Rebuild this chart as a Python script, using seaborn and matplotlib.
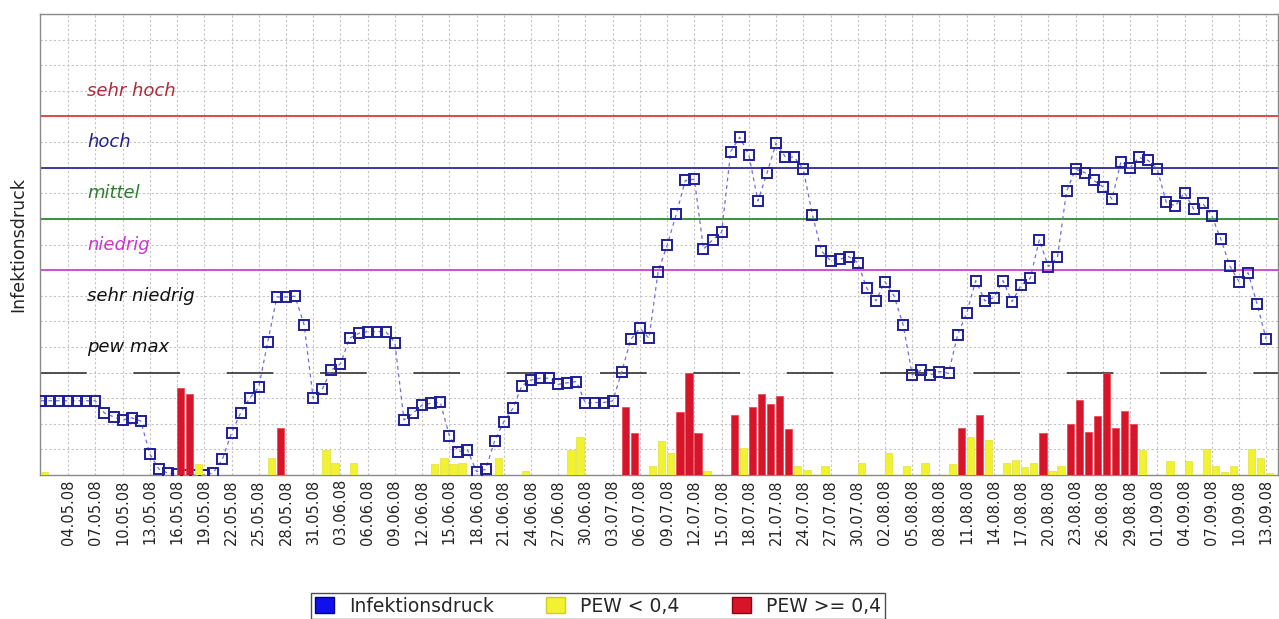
import numpy as np
import pandas as pd
import seaborn as sns
from matplotlib import pyplot as plt
from matplotlib.patches import Patch

# daily values from 01.05.2008 to 13.09.2008
start = "2008-05-01"
druck = [
    2.9, 2.9, 2.9, 2.9, 2.9, 2.9, 2.9, 2.42, 2.27, 2.15,
    2.23, 2.11, 0.82, 0.23, 0.07, 0.05, 0.0, 0.0, 0.0, 0.09,
    0.62, 1.64, 2.42, 3.0, 3.43, 5.21, 6.95, 6.95, 6.98, 5.86,
    3.0, 3.36, 4.1, 4.34, 5.34, 5.53, 5.6, 5.6, 5.6, 5.17,
    2.15, 2.41, 2.73, 2.8, 2.84, 1.54, 0.91, 0.98, 0.13, 0.22,
    1.34, 2.08, 2.6, 3.49, 3.71, 3.78, 3.78, 3.54, 3.6, 3.65,
    2.8, 2.83, 2.83, 2.89, 4.04, 5.3, 5.73, 5.34, 7.94, 8.98,
    10.18, 11.5, 11.55, 8.82, 9.18, 9.48, 12.63, 13.19, 12.5, 10.7,
    11.79, 12.96, 12.43, 12.41, 11.94, 10.16, 8.75, 8.37, 8.42, 8.53,
    8.29, 7.29, 6.8, 7.55, 6.99, 5.86, 3.91, 4.1, 3.91, 4.04,
    3.97, 5.47, 6.32, 7.59, 6.8, 6.93, 7.59, 6.77, 7.42, 7.68,
    9.18, 8.14, 8.5, 11.07, 11.94, 11.81, 11.5, 11.26, 10.77, 12.24,
    12.0, 12.4, 12.28, 11.94, 10.64, 10.51, 11.03, 10.38, 10.61, 10.12,
    9.21, 8.16, 7.55, 7.9, 6.67, 5.3,
]
# PEW < 0,4 (yellow): day index -> bar height
pew_low_days = [0, 17, 25, 31, 32, 34, 43, 44, 45, 46, 50, 53, 58, 59, 67, 68, 69, 73,
                77, 83, 84, 86, 90, 93, 95, 97, 100, 102, 104, 106, 107, 108, 109, 111,
                112, 121, 124, 126, 128, 129, 130, 131, 133, 134, 135]
pew_low_vals = [0.13, 0.42, 0.66, 0.98, 0.48, 0.48, 0.42, 0.66, 0.44, 0.45, 0.65, 0.17,
                0.99, 1.47, 0.35, 1.34, 0.86, 0.14, 1.04, 0.35, 0.18, 0.35, 0.48, 0.86,
                0.35, 0.48, 0.42, 1.47, 1.35, 0.48, 0.6, 0.3, 0.48, 0.17, 0.35, 0.98,
                0.56, 0.56, 1.0, 0.35, 0.13, 0.35, 1.0, 0.65, 0.09]
# PEW >= 0,4 (red)
pew_high_days = [15, 16, 26, 64, 65, 70, 71, 72, 76, 78, 79, 80, 81, 82, 101, 103, 110,
                 113, 114, 115, 116, 117, 118, 119, 120]
pew_high_vals = [3.39, 3.15, 1.83, 2.67, 1.65, 2.47, 4.0, 1.65, 2.33, 2.65, 3.15, 2.78,
                 3.09, 1.78, 1.82, 2.34, 1.65, 1.99, 2.93, 1.69, 2.3, 4.0, 1.82, 2.5, 1.98]

levels = [14, 12, 10, 8]
level_colors = ["#e03a3a", "#2b2b9c", "#2e8a2e", "#cc44cc"]
labels = ["sehr hoch", "hoch", "mittel", "niedrig", "sehr niedrig", "pew max"]
label_y = [15, 13, 11, 9, 7, 5]
label_colors = ["#b02a3a", "#22228a", "#2e7d2e", "#cc33cc", "#111111", "#111111"]
pew_max = 4

n = len(druck)
days = np.arange(n)
dates = pd.date_range(start, periods=n, freq="D")
low = np.zeros(n)
low[pew_low_days] = pew_low_vals
high = np.zeros(n)
high[pew_high_days] = pew_high_vals

sns.set_style("whitegrid")
fig = plt.figure(figsize=(12.79, 6.19), dpi=100)
ax = fig.add_axes([40 / 1279, 144 / 619, 1238 / 1279, 461 / 619])

sns.lineplot(x=days, y=druck, ax=ax, color="#6f6fd8", linestyle=(0, (3, 3)), linewidth=0.9,
             marker="s", markersize=7.5, markerfacecolor="none", markeredgecolor="#1f1f99",
             markeredgewidth=1.4, zorder=3)

ax.bar(days + 0.4, low, width=0.8, color="#f2f230", edgecolor="#e0e040", linewidth=0.5, zorder=4)
ax.bar(days + 0.4, high, width=0.8, color="#d6142a", edgecolor="#e84050", linewidth=0.5, zorder=4)

for lv, c in zip(levels, level_colors):
    ax.axhline(lv, color=c, linewidth=1.3, zorder=2)
ax.axhline(pew_max, color="#333333", linewidth=1.2, linestyle=(0, (28, 28)), zorder=2)

for t, yv, c in zip(labels, label_y, label_colors):
    ax.text(5.1, yv, t, color=c, style="italic", fontsize=13, va="center", zorder=5)

ax.set_xlim(-0.1, 136.3)
ax.set_ylim(0, 18)
ticks = np.arange(3, n, 3)
ax.set_xticks(ticks)
ax.set_xticklabels([dates[i].strftime("%d.%m.%y") for i in ticks], rotation=90,
                   fontsize=10.5, color="#222222")
ax.set_yticks(np.arange(0, 19, 1))
ax.set_yticklabels([])
ax.tick_params(length=0, pad=3)
ax.grid(True, color="#c4c4c4", linestyle=(0, (2, 2)), linewidth=0.8)
ax.set_axisbelow(True)
ax.set_xlabel("")
ax.set_ylabel("Infektionsdruck", fontsize=12.5, color="#222222", labelpad=6)
for s in ax.spines.values():
    s.set_color("#8a8a8a")
    s.set_linewidth(1.0)

handles = [Patch(facecolor="#1010ee", edgecolor="#000080"),
           Patch(facecolor="#f2f230", edgecolor="#d0d020"),
           Patch(facecolor="#d6142a", edgecolor="#900010")]
leg = fig.legend(handles, ["Infektionsdruck", "PEW < 0,4", "PEW >= 0,4"], ncol=3,
                 loc="center", bbox_to_anchor=(598 / 1279, 13 / 619), fontsize=13.5,
                 frameon=True, fancybox=False, handlelength=1.0, handleheight=1.0,
                 handletextpad=0.8, columnspacing=2.8, borderpad=0.2)
leg.get_frame().set_edgecolor("#222222")
leg.get_frame().set_linewidth(1.0)

fig.savefig("out.png", dpi=100)
